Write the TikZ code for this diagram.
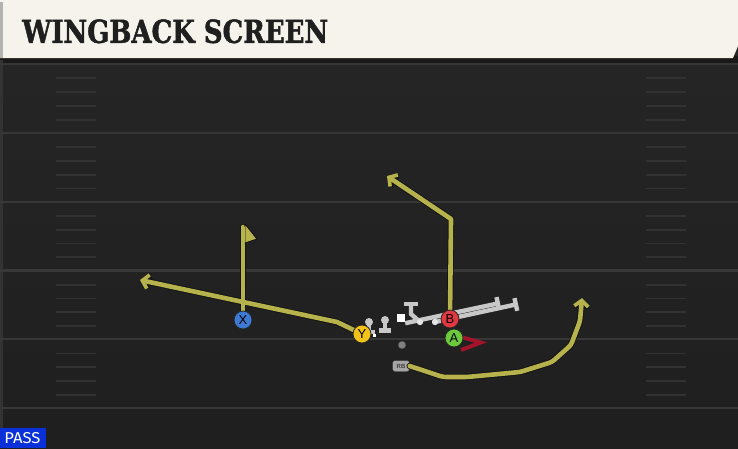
\documentclass[tikz,border=0pt]{standalone}
\usepackage{fontspec}
\setmainfont{Liberation Sans}
\newfontfamily\titlefont{DejaVu Serif}[BoldFeatures={FakeBold=1.6}]
\newfontfamily\badgefont{Fira Sans}
\usetikzlibrary{arrows.meta}
\definecolor{fieldtop}{HTML}{262626}
\definecolor{fieldbot}{HTML}{1F1F1F}
\definecolor{yardline}{HTML}{373737}
\definecolor{hashc}{HTML}{323232}
\definecolor{cream}{HTML}{F5F3EC}
\definecolor{routec}{HTML}{B6B24C}
\definecolor{routeline}{HTML}{141414}
\definecolor{blkc}{HTML}{C8C8C8}
\definecolor{xblue}{HTML}{3D7AD4}
\definecolor{yyel}{HTML}{F2C21B}
\definecolor{bred}{HTML}{E2383F}
\definecolor{agreen}{HTML}{6CC93C}
\definecolor{ared}{HTML}{A3142B}
\definecolor{passblue}{HTML}{0A30DA}
\tikzset{
  player/.style={circle, draw=black!85, line width=0.8pt, minimum size=18pt, inner sep=0pt, font=\fontsize{13}{13}\selectfont},
  routeout/.style={draw=routeline, line width=6.4pt, line join=round, line cap=round},
  route/.style={draw=routec, line width=4.6pt, line join=round, line cap=round},
  tipo/.style={-{Straight Barb[length=6pt,width=14pt,line width=0pt 0.8]}},
  blk/.style={draw=blkc, line width=4.4pt},
  dotl/.style={circle, fill=black!10, minimum size=6pt, inner sep=0pt},
  manhead/.style={circle, fill=blkc, minimum size=8pt, inner sep=0pt},
}
\begin{document}
\begin{tikzpicture}[x=1pt,y=-1pt]
\useasboundingbox (0,0) rectangle (738,448);
% field
\shade[top color=fieldtop, bottom color=fieldbot] (0,0) rectangle (738,448);
\fill[black!90] (0,56) rectangle (738,63);
\fill[black!80!white] (0,60) rectangle (3,448);
\foreach \k in {0,...,5}{
  \draw[yardline, line width=2.2pt] (0,{64+68.8*\k}) -- (738,{64+68.8*\k});
}
\foreach \k in {0,...,4}{
  \foreach \j in {1,...,4}{
    \draw[hashc, line width=1.8pt] (56,{64.5+68.8*\k+13.8*\j}) -- (96,{64.5+68.8*\k+13.8*\j});
    \draw[hashc, line width=1.8pt] (646,{64.5+68.8*\k+13.8*\j}) -- (686,{64.5+68.8*\k+13.8*\j});
  }
}
% title bar
\fill[cream] (0,0) -- (738,0) -- (738,46) -- (733,58) -- (0,58) -- cycle;
\fill[black!30] (0,2) rectangle (3,58);
\node[anchor=south west, inner sep=0pt] (title) at (22,43.5)
  {\resizebox{306pt}{23.5pt}{\titlefont\bfseries\color{black!88}WINGBACK SCREEN}};
% badge
\fill[passblue] (0,428) rectangle (46,448);
\node[inner sep=0pt, text=white] (pass) at (22.5,438.5)
  {\resizebox{36pt}{11pt}{\badgefont PASS}};

% players (positions)
\coordinate (xpos) at (243,320);
\coordinate (ypos) at (362,334);
\coordinate (bpos) at (450,319);
\coordinate (apos) at (454,338);
% route waypoints
\coordinate (xtop) at (243,227);
\coordinate (ybend) at (337,322);
\coordinate (yend) at (140,280);
\coordinate (bbend) at (451,219);
\coordinate (bend) at (387,176);
\coordinate (r1) at (443,377);
\coordinate (r2) at (467,377);
\coordinate (r3) at (520,372);
\coordinate (r4) at (552,362);
\coordinate (r5) at (571,345);
\coordinate (r6) at (580,321);
\coordinate (rend) at (582,298);

\node[player, fill=xblue] (X) at (xpos) {};
\node[player, fill=yyel] (Y) at (ypos) {};
\node[player, fill=bred] (B) at (bpos) {};
\node[player, fill=agreen] (A) at (apos) {};
\node[draw=black!80, fill=black!35, rounded corners=2.5pt, minimum width=17pt, minimum height=11pt, inner sep=0pt, font=\fontsize{6}{6}\selectfont\bfseries, text=black!75] (RB) at (401,366) {RB};

% routes
\foreach \s in {routeout,route}{
  \draw[\s] (X.center) -- (xtop);
  \draw[\s, tipo] (Y.center) -- (ybend) -- (yend);
  \draw[\s, tipo] (B.center) -- (bbend) -- (bend);
  \draw[\s, tipo, rounded corners=3pt] (RB.east) -- (r1) -- (r2) -- (r3) -- (r4) -- (r5) -- (r6) -- (rend);
}
\draw[routeline, line width=0.9pt, fill=routec, line join=round] (245,224) -- (257,239) -- (245,243) -- cycle;
\draw[routec, line width=4.6pt] (243,227) -- (243,243);
% A block
\coordinate (a1) at (463,337.5);
\coordinate (a2) at (481,342.5);
\coordinate (a3) at (461,350);
\draw[ared, line width=3.8pt, line join=miter] (a1) -- (a2) -- (a3);

% line / blockers
\node[fill=white, minimum size=8pt, inner sep=0pt] (C) at (401,318) {};
\node[dotl] (g1) at (420,322) {};
\node[dotl] (g2) at (435,322) {};
\coordinate (t1) at (500,303);
\coordinate (t2) at (518,304);
\coordinate (tb) at (411,302);
\draw[blk, -{Bar[width=13pt]}] (C.south east) ++(0,1) -- (t1);
\draw[blk, -{Bar[width=13pt]}] (g2.center) -- (t2);
\draw[blk, -{Bar[width=14pt]}] (g1.center) -- (411,314) -- (tb);
\node[dotl] at (g1) {};
\node[dotl] at (g2) {};
% small man icons
\node[manhead] (p1) at (369,322) {};
\node[manhead] (p2) at (385,320) {};
\coordinate (p1b) at (369,334);
\coordinate (p2b) at (385,332.5);
\draw[blk, -{Bar[width=12pt]}] (p1.center) -- (p1b);
\draw[blk, -{Bar[width=12pt]}] (p2.center) -- (p2b);
\fill[white] (372.5,333.5) rectangle (375.5,336.5);
\node[circle, draw=black!80, fill=black!50, minimum size=8pt, inner sep=0pt] (dot) at (402,345) {};

% player labels on top
\node[player, fill=xblue] at (xpos) {X};
\node[player, fill=yyel] at (ypos) {Y};
\node[player, fill=bred] at (bpos) {B};
\node[player, fill=agreen] at (apos) {A};
\end{tikzpicture}
\end{document}
